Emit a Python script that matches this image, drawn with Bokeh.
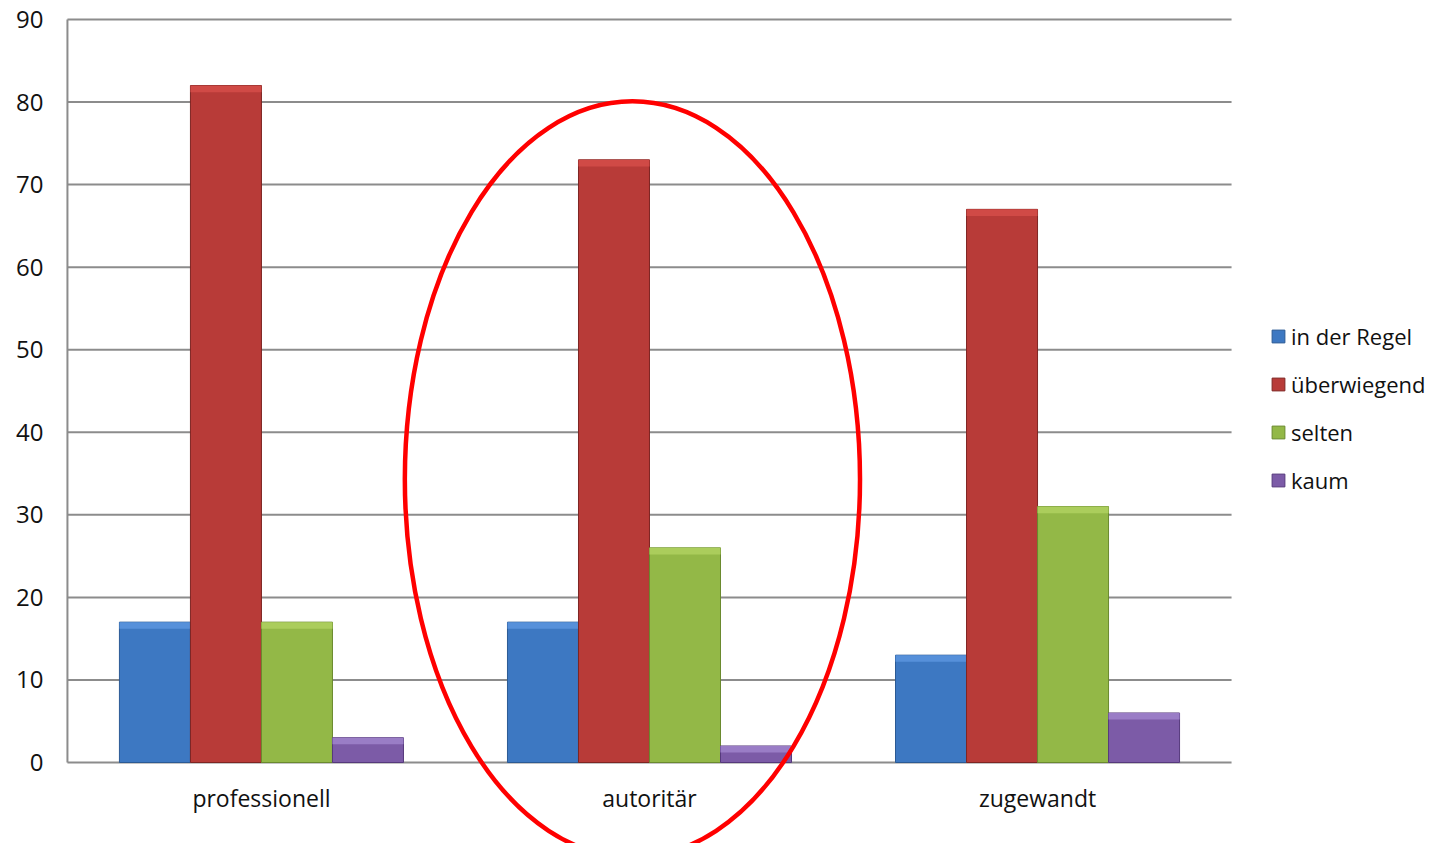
from bokeh.plotting import figure
from bokeh.models import Range1d, FixedTicker, Legend, LegendItem
from bokeh.embed import file_html
from bokeh.resources import INLINE
from bokeh.core.properties import value

# ---- data ----
categories = ["professionell", "autoritär", "zugewandt"]
series_names = ["in der Regel", "überwiegend", "selten", "kaum"]
in_der_regel = [17, 17, 13]
ueberwiegend = [82, 73, 67]
selten = [17, 26, 31]
kaum = [3, 2, 6]
y_ticks = [0, 10, 20, 30, 40, 50, 60, 70, 80, 90]

# ---- style ----
fill_colors = ["#3D78C2", "#B83B38", "#93B847", "#7C5BA7"]
top_colors = ["#5690DA", "#D04A46", "#ABCD5C", "#9A7DC6"]
line_colors = ["#2B5A94", "#7E2523", "#6A8A2E", "#56397C"]
offsets = [-0.2745, -0.0915, 0.0915, 0.2745]
bar_width = 0.183
highlight = 0.8
FONT = "Open Sans"
grid_color = "#8C8C8C"

# highlight ellipse around "autoritär" (centre x, centre y, width, height)
ellipse_cx, ellipse_cy, ellipse_w, ellipse_h = 1.456, 34.3, 1.173, 91.6

p = figure(width=1426, height=843,
           x_range=Range1d(-0.005, 3.5024), y_range=Range1d(-9.81, 92.30),
           output_backend="svg", toolbar_location=None,
           x_axis_location=None, y_axis_location="left",
           min_border_left=65, min_border_right=0,
           min_border_top=0, min_border_bottom=0)
p.outline_line_color = None
p.background_fill_color = "white"
p.border_fill_color = "white"

ticker = FixedTicker(ticks=y_ticks, minor_ticks=[])
p.yaxis.ticker = ticker
p.yaxis.axis_line_color = None
p.yaxis.major_tick_out = 0
p.yaxis.major_tick_in = 0
p.yaxis.minor_tick_line_color = None
p.yaxis.major_label_standoff = 22
p.yaxis.major_label_text_font = FONT
p.yaxis.major_label_text_font_size = "24px"
p.yaxis.major_label_text_color = "#111111"

p.xgrid.visible = False
p.ygrid.visible = False

# horizontal grid lines across the category area, and the vertical axis line
p.segment(x0=[0] * len(y_ticks), y0=y_ticks, x1=[len(categories)] * len(y_ticks), y1=y_ticks,
          line_color=grid_color, line_width=2)
p.segment(x0=[0], y0=[y_ticks[0]], x1=[0], y1=[y_ticks[-1]],
          line_color=grid_color, line_width=2)

series_values = [in_der_regel, ueberwiegend, selten, kaum]
items = []
for name, vals, off, fc, tc, lc in zip(series_names, series_values, offsets,
                                       fill_colors, top_colors, line_colors):
    xs = [i + 0.5 + off for i in range(len(categories))]
    r = p.vbar(x=xs, top=vals, bottom=0, width=bar_width,
               fill_color=fc, line_color=lc, line_width=1)
    p.vbar(x=xs, top=vals, bottom=[v - highlight for v in vals], width=bar_width,
           fill_color=tc, line_color=None)
    items.append(LegendItem(label=name, renderers=[r]))

# category labels
p.text(x=[i + 0.5 for i in range(len(categories))], y=[0] * len(categories),
       text=categories, y_offset=35, text_align="center", text_baseline="middle",
       text_font=value(FONT), text_font_size="23px", text_color="#111111")

# red ellipse
p.ellipse(x=[ellipse_cx], y=[ellipse_cy], width=[ellipse_w], height=[ellipse_h],
          fill_color=None, line_color="#FF0000", line_width=4.5)

legend = Legend(items=items, location=(1205, 343))
legend.padding = 0
legend.margin = 0
legend.border_line_color = None
legend.background_fill_alpha = 0
legend.glyph_width = 16
legend.glyph_height = 16
legend.label_height = 40
legend.spacing = 8
legend.label_standoff = 5
legend.label_text_font = FONT
legend.label_text_font_size = "22px"
legend.label_text_color = "#111111"
p.add_layout(legend)

open("out.html", "w").write(file_html(p, INLINE))
